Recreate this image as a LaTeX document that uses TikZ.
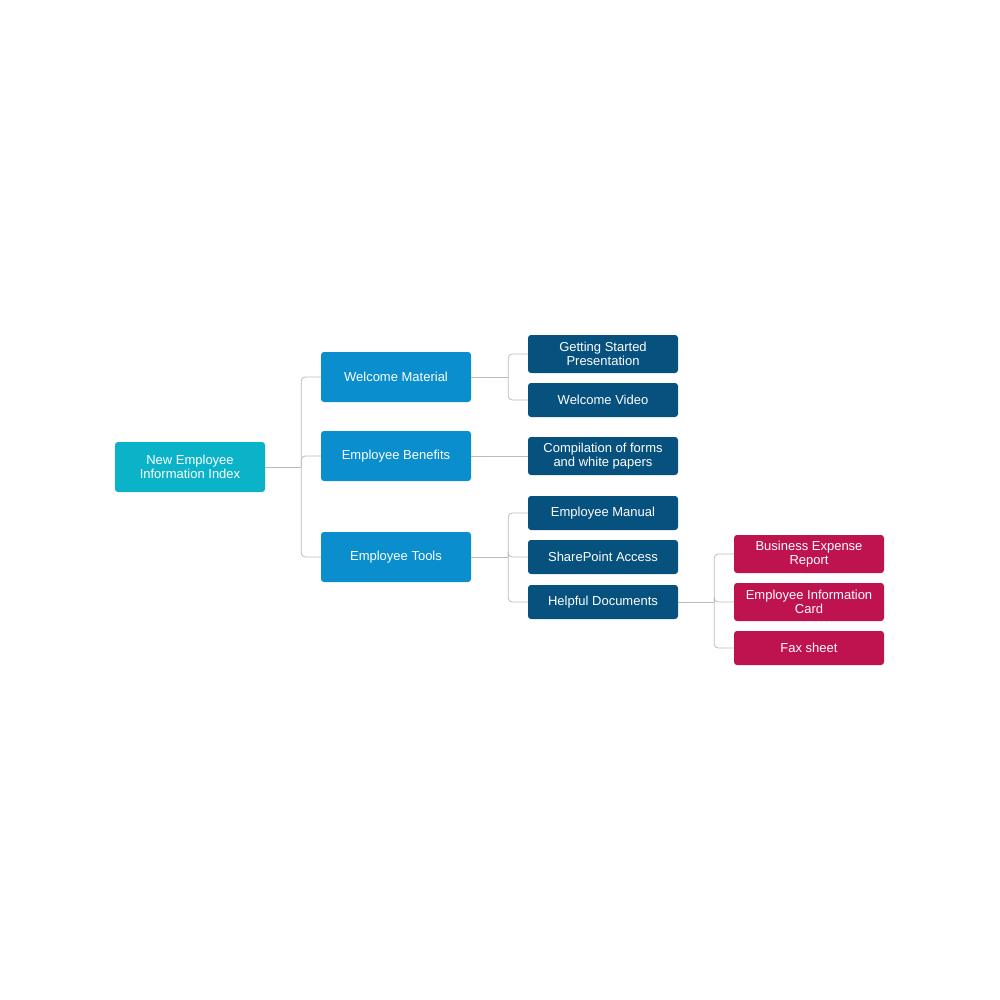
\documentclass[tikz,border=0pt]{standalone}
\usepackage{fontspec}
\setmainfont{Liberation Sans}
\begin{document}
\begin{tikzpicture}[x=1pt,y=-1pt,
  box/.style={rounded corners=3pt,text=white,align=center,minimum width=150pt,inner sep=1pt,font=\fontsize{13}{14}\selectfont},
  rootb/.style={box,fill=rootc,minimum height=50pt},
  lone/.style={box,fill=lonec,minimum height=50pt},
  ltwo/.style={box,fill=ltwoc,minimum height=34pt},
  lthree/.style={box,fill=lthreec,minimum height=34pt},
  conn/.style={draw=linec,line width=0.8pt,rounded corners=4pt}]
\definecolor{rootc}{HTML}{0BB3C9}
\definecolor{lonec}{HTML}{0A8ECE}
\definecolor{ltwoc}{HTML}{07517F}
\definecolor{lthreec}{HTML}{BF134F}
\definecolor{linec}{HTML}{BBBBBB}
\useasboundingbox (0,0) rectangle (1000,1000);
\node[rootb] (root) at (190,467) {New Employee\\Information Index};
\node[lone] (wm) at (396,377) {Welcome Material};
\node[lone] (eb) at (396,456) {Employee Benefits};
\node[lone] (et) at (396,557) {Employee Tools};
\node[ltwo,minimum height=38pt] (gs) at (603,354) {Getting Started\\Presentation};
\node[ltwo] (wv) at (603,400) {Welcome Video};
\node[ltwo,minimum height=38pt] (cf) at (603,456) {Compilation of forms\\and white papers};
\node[ltwo] (em) at (603,513) {Employee Manual};
\node[ltwo] (sp) at (603,557) {SharePoint Access};
\node[ltwo] (hd) at (603,602) {Helpful Documents};
\node[lthree,minimum height=38pt] (be) at (809,554) {Business Expense\\Report};
\node[lthree,minimum height=38pt] (ei) at (809,602) {Employee Information\\Card};
\node[lthree] (fx) at (809,648) {Fax sheet};
\draw[conn] (root.east) -- ++(36,0) coordinate (j1);
\draw[conn] (j1) |- (wm.west);
\draw[conn] (j1) |- (eb.west);
\draw[conn] (j1) |- (et.west);
\draw[conn] (wm.east) -- ++(37,0) coordinate (j2);
\draw[conn] (j2) |- (gs.west);
\draw[conn] (j2) |- (wv.west);
\draw[conn] (eb.east) -- (cf.west);
\draw[conn] (et.east) -- ++(37,0) coordinate (j3);
\draw[conn] (j3) |- (em.west);
\draw[conn] (j3) |- (sp.west);
\draw[conn] (j3) |- (hd.west);
\draw[conn] (hd.east) -- ++(36,0) coordinate (j4);
\draw[conn] (j4) |- (be.west);
\draw[conn] (j4) |- (ei.west);
\draw[conn] (j4) |- (fx.west);
\end{tikzpicture}
\end{document}
